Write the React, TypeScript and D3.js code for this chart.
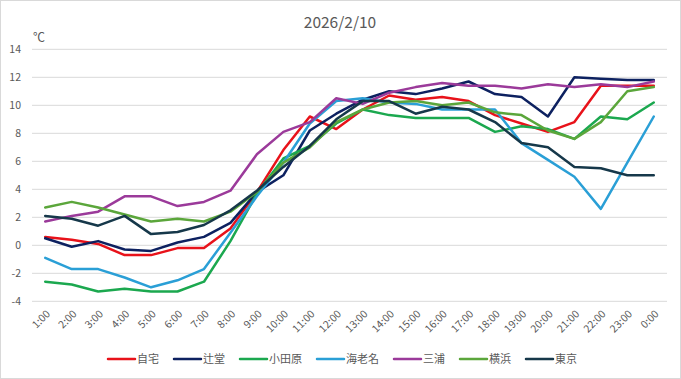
import React from "react";
import * as d3 from "d3";

const hours = ["1:00","2:00","3:00","4:00","5:00","6:00","7:00","8:00","9:00","10:00","11:00","12:00","13:00","14:00","15:00","16:00","17:00","18:00","19:00","20:00","21:00","22:00","23:00","0:00"];

const jitaku = [0.6, 0.4, 0.1, -0.7, -0.7, -0.2, -0.2, 1.2, 3.8, 6.8, 9.2, 8.3, 9.7, 10.7, 10.4, 10.6, 10.3, 9.3, 8.7, 8.1, 8.8, 11.4, 11.4, 11.4];
const tsujido = [0.5, -0.1, 0.3, -0.3, -0.4, 0.2, 0.6, 1.6, 3.8, 5.0, 8.2, 9.4, 10.4, 11.0, 10.8, 11.2, 11.7, 10.8, 10.6, 9.2, 12.0, 11.9, 11.8, 11.8];
const odawara = [-2.6, -2.8, -3.3, -3.1, -3.3, -3.3, -2.6, 0.3, 3.7, 6.2, 7.1, 8.7, 9.7, 9.3, 9.1, 9.1, 9.1, 8.1, 8.5, 8.3, 7.6, 9.2, 9.0, 10.2];
const ebina = [-0.9, -1.7, -1.7, -2.3, -3.0, -2.5, -1.7, 0.9, 3.5, 5.9, 8.7, 10.3, 10.5, 10.2, 10.1, 9.7, 9.7, 9.7, 7.3, 6.1, 4.9, 2.6, 5.9, 9.2];
const miura = [1.7, 2.1, 2.4, 3.5, 3.5, 2.8, 3.1, 3.9, 6.5, 8.1, 8.8, 10.5, 10.1, 10.9, 11.3, 11.6, 11.4, 11.4, 11.2, 11.5, 11.3, 11.5, 11.3, 11.7];
const yokohama = [2.7, 3.1, 2.7, 2.2, 1.7, 1.9, 1.7, 2.4, 3.8, 5.9, 7.0, 8.8, 9.7, 10.2, 10.3, 10.0, 10.2, 9.5, 9.3, 8.2, 7.6, 8.8, 11.0, 11.3];
const tokyo = [2.1, 1.9, 1.4, 2.1, 0.8, 0.95, 1.45, 2.5, 3.9, 5.6, 7.1, 9.0, 10.3, 10.3, 9.4, 9.9, 9.7, 8.8, 7.3, 7.0, 5.6, 5.5, 5.0, 5.0];

const seriesNames = ["自宅", "辻堂", "小田原", "海老名", "三浦", "横浜", "東京"];
const seriesValues = [jitaku, tsujido, odawara, ebina, miura, yokohama, tokyo];
const seriesColors = ["#e8121a", "#0d2160", "#1ba84f", "#2a9fd6", "#9b3a9a", "#5ba63b", "#16384a"];

const yTicks = [-4, -2, 0, 2, 4, 6, 8, 10, 12, 14];
const title = "2026/2/10";
const unit = "℃";

const W = 681, H = 379;
const FONT = "'Noto Sans CJK JP', 'Noto Sans', sans-serif";
const TXT = "#595959";

export default function App() {
  const left = 32, right = 667, top = 49.3, bottom = 301.3;
  const x = d3.scaleBand<string>().domain(hours).range([left, right]);
  const y = d3.scaleLinear().domain([-4, 14]).range([bottom, top]);
  const cx = (h: string) => (x(h) as number) + x.bandwidth() / 2;
  const line = d3.line<number>().x((_, i) => cx(hours[i])).y((v) => y(v));

  // legend layout
  const swatchW = 27, gapAfterSwatch = 2, charW = 11, itemGap = 15;
  const widths = seriesNames.map((n) => swatchW + gapAfterSwatch + n.length * charW);
  const total = widths.reduce((a, b) => a + b, 0) + itemGap * (seriesNames.length - 1);
  let lx = W / 2 - total / 2 + 2;
  const legendItems = seriesNames.map((n, i) => {
    const pos = lx;
    lx += widths[i] + itemGap;
    return { name: n, x: pos, color: seriesColors[i] };
  });

  return (
    <svg width={W} height={H} style={{ position: "absolute", left: 0, top: 0, background: "#fff" }} fontFamily={FONT}>
      <rect x={0.5} y={0.5} width={W - 1} height={H - 1} fill="#fff" stroke="#d9d9d9" />
      <text x={340} y={28} textAnchor="middle" fontSize={15.5} fill={TXT}>{title}</text>
      <text x={33} y={42} fontSize={12} fill={TXT}>{unit}</text>
      {yTicks.map((t) => (
        <g key={t}>
          <line x1={left} x2={right} y1={y(t)} y2={y(t)} stroke="#d9d9d9" strokeWidth={1} />
          <text x={21} y={y(t)} dy="0.35em" textAnchor="end" fontSize={10.5} fill={TXT}>{t}</text>
        </g>
      ))}
      {hours.map((h) => (
        <text key={h} transform={`translate(${cx(h) + 3},${312}) rotate(-45)`} textAnchor="end" dy="0.35em" fontSize={10.5} fill={TXT}>{h}</text>
      ))}
      {seriesValues.map((vals, i) => (
        <path key={seriesNames[i]} d={line(vals) || ""} fill="none" stroke={seriesColors[i]} strokeWidth={2.5} strokeLinejoin="round" strokeLinecap="round" />
      ))}
      {legendItems.map((it) => (
        <g key={it.name}>
          <line x1={it.x} x2={it.x + swatchW} y1={359} y2={359} stroke={it.color} strokeWidth={2.5} strokeLinecap="round" />
          <text x={it.x + swatchW + gapAfterSwatch} y={359} dy="0.36em" fontSize={11} fill={TXT}>{it.name}</text>
        </g>
      ))}
    </svg>
  );
}
